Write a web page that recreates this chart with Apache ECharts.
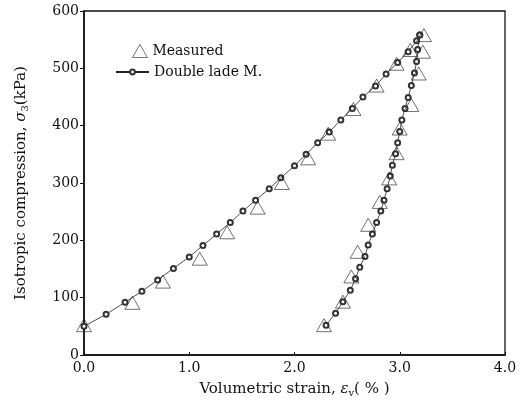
<!DOCTYPE html>
<html>
<head>
<meta charset="utf-8">
<script src="https://cdn.jsdelivr.net/npm/echarts@6/dist/echarts.min.js"></script>
<style>
html,body{margin:0;padding:0;background:#fff;}
#chart{width:528px;height:403px;}
</style>
</head>
<body>
<div id="chart"></div>
<script>
// Measured isotropic compression test (loading then unloading): [strain %, stress kPa]
const measuredLoading = [
  [0.0, 52], [0.46, 91], [0.75, 128], [1.10, 168], [1.36, 214], [1.65, 257],
  [1.88, 300], [2.13, 343], [2.32, 386], [2.56, 429], [2.78, 470], [2.97, 508],
  [3.10, 532], [3.23, 558]
];
const measuredUnloading = [
  [3.22, 529], [3.18, 491], [3.11, 436], [3.00, 395], [2.97, 352], [2.90, 308],
  [2.81, 267], [2.70, 227], [2.60, 180], [2.54, 137], [2.46, 93], [2.28, 52]
];
// Double Lade model prediction
const modelLoading = [
  [0.0, 50], [0.21, 71], [0.39, 92], [0.55, 111], [0.70, 131], [0.85, 151],
  [1.00, 171], [1.13, 191], [1.26, 211], [1.39, 231], [1.51, 251], [1.63, 270],
  [1.76, 290], [1.87, 309], [2.00, 330], [2.11, 350], [2.22, 370], [2.33, 389],
  [2.44, 410], [2.55, 430], [2.65, 450], [2.77, 469], [2.87, 490], [2.98, 510],
  [3.08, 529], [3.16, 548], [3.19, 558]
];
const modelUnloading = [
  [3.19, 558], [3.17, 533], [3.16, 512], [3.14, 492], [3.11, 470], [3.08, 449],
  [3.05, 430], [3.02, 410], [3.00, 390], [2.98, 370], [2.96, 351], [2.93, 331],
  [2.91, 312], [2.88, 290], [2.85, 270], [2.82, 251], [2.78, 231], [2.74, 211],
  [2.70, 192], [2.67, 172], [2.62, 153], [2.58, 133], [2.53, 113], [2.46, 93],
  [2.39, 73], [2.30, 52]
];
const xTicks = ['0.0', '1.0', '2.0', '3.0', '4.0'];
const legendNames = ['Measured', 'Double lade M.'];

const FONT = '"DejaVu Serif", "Liberation Serif", serif';
const INK = '#111';
const chart = echarts.init(document.getElementById('chart'), null, {renderer: 'canvas'});

const triStyle = {
  type: 'scatter',
  symbol: 'triangle',
  symbolSize: [15, 13],
  itemStyle: {color: 'rgba(255,255,255,0)', borderColor: '#222', borderWidth: 0.8},
  z: 3
};
const lineStyle = {
  type: 'line',
  symbol: 'emptyCircle',
  symbolSize: 5,
  showAllSymbol: true,
  lineStyle: {color: '#222', width: 0.8},
  itemStyle: {color: '#333', borderColor: '#333', borderWidth: 0.8},
  z: 2
};
const titleRich = {
  n: {fontFamily: FONT, fontSize: 15, color: INK},
  e: {fontFamily: FONT, fontSize: 15, fontStyle: 'italic', color: INK},
  s: {fontFamily: FONT, fontSize: 10, color: INK, padding: [8, 0, 0, 0]}
};

chart.setOption({
  animation: false,
  backgroundColor: '#fff',
  textStyle: {fontFamily: FONT, color: INK},
  grid: {left: 84, right: 23, top: 11, bottom: 48, containLabel: false},
  legend: [{
    left: 127,
    top: 39,
    itemWidth: 15,
    itemHeight: 13,
    itemGap: 6,
    textStyle: {fontFamily: FONT, fontSize: 14, color: INK},
    data: [{name: legendNames[0], icon: 'triangle',
      itemStyle: {color: 'rgba(255,255,255,0)', borderColor: '#222', borderWidth: 0.8}}]
  }, {
    left: 110,
    top: 60,
    itemWidth: 33,
    itemHeight: 6,
    textStyle: {fontFamily: FONT, fontSize: 14, color: INK},
    data: [legendNames[1]]
  }],
  xAxis: {
    type: 'value',
    min: 0, max: 4, interval: 1,
    name: '{n|Volumetric strain, }{e|ε}{s|v}{n|( % )}',
    nameLocation: 'middle',
    nameGap: 25,
    nameTextStyle: {rich: titleRich},
    axisLine: {onZero: false, lineStyle: {color: INK, width: 1.6}},
    axisTick: {show: true, inside: true, length: 3, lineStyle: {color: INK}},
    axisLabel: {
      fontFamily: FONT, fontSize: 14, color: INK, margin: 6,
      formatter: v => xTicks[Math.round(v)]
    },
    splitLine: {show: false}
  },
  yAxis: {
    type: 'value',
    min: 0, max: 600, interval: 100,
    name: '{n|Isotropic compression, }{e|σ}{s|3}{n|(kPa)}',
    nameLocation: 'middle',
    nameGap: 54,
    nameTextStyle: {rich: titleRich},
    axisLine: {onZero: false, lineStyle: {color: INK, width: 1.6}},
    axisTick: {show: true, length: 4, lineStyle: {color: INK}},
    axisLabel: {fontFamily: FONT, fontSize: 14, color: INK, margin: 5},
    splitLine: {show: false}
  },
  series: [
    Object.assign({name: legendNames[0], data: measuredLoading}, triStyle),
    Object.assign({name: legendNames[0], data: measuredUnloading}, triStyle),
    Object.assign({name: legendNames[1], data: modelLoading}, lineStyle),
    Object.assign({name: legendNames[1], data: modelUnloading}, lineStyle)
  ],
  graphic: [{
    type: 'rect',
    shape: {x: 84, y: 11, width: 421, height: 344},
    style: {fill: 'none', stroke: INK, lineWidth: 1.3},
    silent: true,
    z: 1
  }]
});
</script>
</body>
</html>
